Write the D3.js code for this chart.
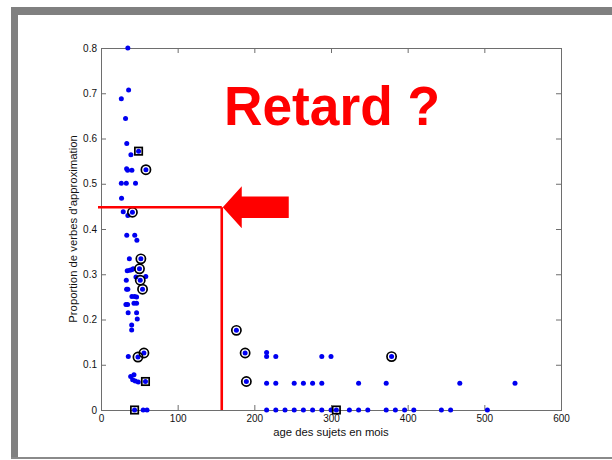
<!DOCTYPE html>
<html>
<head>
<meta charset="utf-8">
<script src="https://cdn.jsdelivr.net/npm/d3@7"></script>
<style>
  html, body { margin: 0; padding: 0; background: #fff; }
  svg { display: block; }
  text { font-family: "Liberation Sans", Arial, Helvetica, sans-serif; }
</style>
</head>
<body>
<svg id="chart" width="612" height="460"></svg>
<script>
// Ages (months) and proportion of approximation verbs per subject
const plainAge = [35, 36, 26.5, 32, 33.6, 39, 33.4, 34.7, 40.3, 26.5, 33, 45, 26.8, 29, 35,
  33.6, 44, 46.8, 37, 34.2, 37.5, 40, 42, 33, 45.6, 58.4, 33.4, 35, 40.3, 43.8, 46.4,
  32.5, 34.7, 43, 46.4, 35.4, 46.4, 47.3, 40, 40, 35.6, 38.7, 43, 41.3, 44.7, 48.6, 55, 60,
  216, 216, 228, 288, 300,
  216, 228, 252, 264, 276, 288, 336, 372, 468, 540,
  216, 228, 240, 252, 264, 276, 288, 300, 324, 336, 348, 372, 384, 396, 408, 444, 456, 504];
const plainProp = [0.80, 0.707, 0.688, 0.644, 0.589, 0.564, 0.533, 0.53, 0.53, 0.501, 0.501, 0.501, 0.468, 0.438, 0.43,
  0.386, 0.386, 0.375, 0.334, 0.308, 0.309, 0.31, 0.312, 0.287, 0.294, 0.295, 0.267, 0.267, 0.251, 0.251, 0.25,
  0.233, 0.233, 0.236, 0.236, 0.215, 0.215, 0.201, 0.188, 0.177, 0.118, 0.074, 0.078, 0.067, 0.064, 0.062, 0, 0,
  0.127, 0.118, 0.118, 0.118, 0.118,
  0.059, 0.059, 0.059, 0.059, 0.059, 0.059, 0.059, 0.059, 0.059, 0.059,
  0, 0, 0, 0, 0, 0, 0, 0, 0, 0, 0, 0, 0, 0, 0, 0, 0, 0];

// Subjects highlighted with a ring
const circledAge = [58.6, 41, 52, 50.2, 51.2, 54.2, 48.2, 56, 176.6, 188, 189.6, 379];
const circledProp = [0.531, 0.437, 0.334, 0.312, 0.287, 0.267, 0.117, 0.126, 0.176, 0.126, 0.063, 0.118];

// Subjects highlighted with a square
const boxedAge = [49, 58, 43.8, 307];
const boxedProp = [0.572, 0.063, 0, 0];

const xTicks = [0, 100, 200, 300, 400, 500, 600];
const yTicks = [0, 0.1, 0.2, 0.3, 0.4, 0.5, 0.6, 0.7, 0.8];

// Threshold marking the delayed group
const thresholdAge = 157.5;
const thresholdProp = 0.448;
const titleText = "Retard ?";
const xLabel = "age des sujets en mois";
const yLabel = "Proportion de verbes d'approximation";

const svg = d3.select("#chart");

// Slide frame
svg.append("rect").attr("x", 11).attr("y", 7).attr("width", 601).attr("height", 8).attr("fill", "#808080");
svg.append("rect").attr("x", 11).attr("y", 7).attr("width", 7).attr("height", 452).attr("fill", "#808080");
svg.append("rect").attr("x", 11).attr("y", 457).attr("width", 601).attr("height", 2).attr("fill", "#8a8a8a");

const x = d3.scaleLinear().domain([0, 600]).range([101, 561]);
const y = d3.scaleLinear().domain([0, 0.8]).range([410, 48]);

const axisColor = "#6e6e6e";
const tickLen = 5;

function styleAxis(g) {
  g.selectAll(".domain").remove();
  g.selectAll(".tick line").attr("stroke", axisColor);
  g.selectAll(".tick text").attr("fill", "#111").style("font-size", "10px");
}

svg.append("g").attr("transform", `translate(0,${y(0)})`)
  .call(d3.axisBottom(x).tickValues(xTicks).tickSizeInner(-tickLen).tickSizeOuter(0).tickPadding(5).tickFormat(d3.format("d")))
  .call(styleAxis);
svg.append("g").attr("transform", `translate(0,${y(0.8)})`)
  .call(d3.axisTop(x).tickValues(xTicks).tickSizeInner(-tickLen).tickSizeOuter(0).tickFormat(""))
  .call(styleAxis);
svg.append("g").attr("transform", `translate(${x(0)},0)`)
  .call(d3.axisLeft(y).tickValues(yTicks).tickSizeInner(-tickLen).tickSizeOuter(0).tickPadding(4).tickFormat(d => d === 0 ? "0" : d3.format(".1f")(d)))
  .call(styleAxis);
svg.append("g").attr("transform", `translate(${x(600)},0)`)
  .call(d3.axisRight(y).tickValues(yTicks).tickSizeInner(-tickLen).tickSizeOuter(0).tickFormat(""))
  .call(styleAxis);

// Plot box
svg.append("rect")
  .attr("x", x(0)).attr("y", y(0.8))
  .attr("width", x(600) - x(0)).attr("height", y(0) - y(0.8))
  .attr("fill", "none").attr("stroke", axisColor).attr("stroke-width", 1)
  .attr("shape-rendering", "crispEdges");

// Axis titles
svg.append("text")
  .attr("x", (x(0) + x(600)) / 2).attr("y", 436)
  .attr("text-anchor", "middle").attr("fill", "#111").style("font-size", "11.3px")
  .text(xLabel);
svg.append("text")
  .attr("transform", `translate(77,${(y(0) + y(0.8)) / 2}) rotate(-90)`)
  .attr("text-anchor", "middle").attr("fill", "#111").style("font-size", "11.3px")
  .text(yLabel);

// Data points
const allPts = []
  .concat(plainAge.map((a, i) => [a, plainProp[i]]))
  .concat(circledAge.map((a, i) => [a, circledProp[i]]))
  .concat(boxedAge.map((a, i) => [a, boxedProp[i]]));

svg.append("g").selectAll("circle").data(allPts).join("circle")
  .attr("cx", d => x(d[0])).attr("cy", d => y(d[1])).attr("r", 2.5)
  .attr("fill", "#0000f0");

svg.append("g").selectAll("circle").data(circledAge.map((a, i) => [a, circledProp[i]])).join("circle")
  .attr("cx", d => x(d[0])).attr("cy", d => y(d[1])).attr("r", 4.6)
  .attr("fill", "none").attr("stroke", "#000").attr("stroke-width", 1.7);

const sq = 7.4;
svg.append("g").selectAll("rect").data(boxedAge.map((a, i) => [a, boxedProp[i]])).join("rect")
  .attr("x", d => x(d[0]) - sq / 2).attr("y", d => y(d[1]) - sq / 2)
  .attr("width", sq).attr("height", sq)
  .attr("fill", "none").attr("stroke", "#000").attr("stroke-width", 1.7);

// Threshold lines
const red = "#ff0000";
svg.append("line")
  .attr("x1", x(0) - 3).attr("x2", x(thresholdAge))
  .attr("y1", y(thresholdProp)).attr("y2", y(thresholdProp))
  .attr("stroke", red).attr("stroke-width", 2.6);
svg.append("line")
  .attr("x1", x(thresholdAge)).attr("x2", x(thresholdAge))
  .attr("y1", y(thresholdProp)).attr("y2", y(0))
  .attr("stroke", red).attr("stroke-width", 2.6);

// Arrow pointing at the threshold corner
const tipX = x(thresholdAge) + 1, tipY = y(thresholdProp);
const headLen = 19, headHalf = 21, shaftHalf = 10.8, shaftEnd = 66;
svg.append("path")
  .attr("d", d3.line()([
    [tipX, tipY],
    [tipX + headLen, tipY - headHalf],
    [tipX + headLen, tipY - shaftHalf],
    [tipX + shaftEnd, tipY - shaftHalf],
    [tipX + shaftEnd, tipY + shaftHalf],
    [tipX + headLen, tipY + shaftHalf],
    [tipX + headLen, tipY + headHalf]
  ]) + "Z")
  .attr("fill", red);

// Title
svg.append("text")
  .attr("x", 224).attr("y", 125)
  .attr("textLength", 216).attr("lengthAdjust", "spacingAndGlyphs")
  .attr("fill", red).style("font-size", "56px").style("font-weight", "bold")
  .text(titleText);
</script>
</body>
</html>
